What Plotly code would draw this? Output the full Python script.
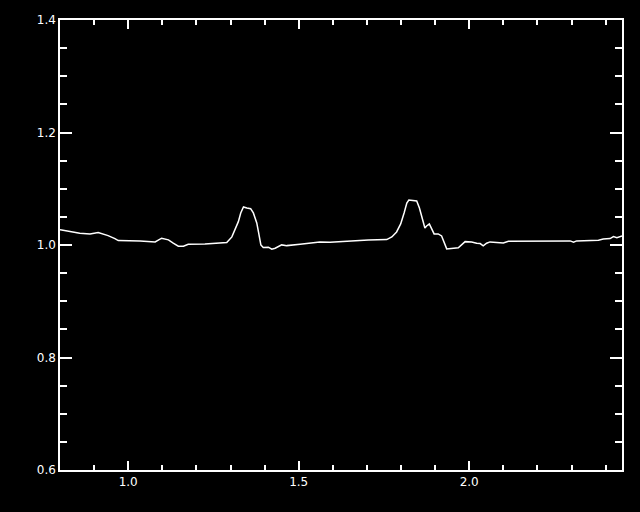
import plotly.graph_objects as go

wavelength = [0.800, 0.805, 0.858, 0.888, 0.912, 0.941, 0.961, 0.971, 1.035, 1.079, 1.098,
              1.118, 1.132, 1.147, 1.162, 1.176, 1.225, 1.289, 1.304, 1.313, 1.323, 1.330,
              1.338, 1.348, 1.359, 1.367, 1.377, 1.382, 1.389, 1.396, 1.411, 1.421, 1.431,
              1.450, 1.465, 1.504, 1.533, 1.562, 1.592, 1.641, 1.704, 1.758, 1.773, 1.787,
              1.799, 1.809, 1.817, 1.823, 1.846, 1.854, 1.861, 1.870, 1.875, 1.883, 1.890,
              1.897, 1.909, 1.919, 1.934, 1.949, 1.968, 1.988, 2.007, 2.022, 2.032, 2.041,
              2.051, 2.061, 2.081, 2.100, 2.115, 2.296, 2.306, 2.315, 2.379, 2.393, 2.413,
              2.423, 2.433, 2.443, 2.448]
ratio = [1.0270, 1.0268, 1.0209, 1.0197, 1.0220, 1.0167, 1.0114, 1.0078, 1.0073, 1.0055, 1.0121,
         1.0091, 1.0032, 0.9979, 0.9979, 1.0014, 1.0020, 1.0043, 1.0144, 1.0268, 1.0415, 1.0570,
         1.0676, 1.0658, 1.0646, 1.0570, 1.0392, 1.0232, 1.0002, 0.9954, 0.9961, 0.9925, 0.9943,
         1.0002, 0.9989, 1.0014, 1.0032, 1.0055, 1.0050, 1.0067, 1.0091, 1.0096, 1.0144, 1.0232,
         1.0374, 1.0570, 1.0747, 1.0800, 1.0783, 1.0658, 1.0481, 1.0303, 1.0339, 1.0374, 1.0286,
         1.0197, 1.0197, 1.0161, 0.9931, 0.9943, 0.9949, 1.0060, 1.0055, 1.0032, 1.0025, 0.9984,
         1.0032, 1.0055, 1.0043, 1.0037, 1.0067, 1.0073, 1.0050, 1.0073, 1.0085, 1.0108, 1.0114,
         1.0149, 1.0131, 1.0156, 1.0161]

x_range = [0.8, 2.448]
y_range = [0.6, 1.4]
x_ticks = [1.0, 1.5, 2.0]
x_ticklabels = ["1.0", "1.5", "2.0"]
y_ticks = [0.6, 0.8, 1.0, 1.2, 1.4]
y_ticklabels = ["0.6", "0.8", "1.0", "1.2", "1.4"]

fig = go.Figure()
fig.add_trace(go.Scatter(x=wavelength, y=ratio, mode="lines",
                         line=dict(color="white", width=1.5), showlegend=False))

axis_common = dict(showgrid=False, zeroline=False, showline=True, linecolor="white",
                   linewidth=1.5, mirror="allticks", ticks="inside", tickcolor="white",
                   tickwidth=1.5, tickfont=dict(color="white", size=12, family="DejaVu Sans"))

fig.update_xaxes(range=x_range, tickvals=x_ticks, ticktext=x_ticklabels, ticklen=9,
                 minor=dict(dtick=0.1, tick0=0.0, ticklen=5, ticks="inside",
                            tickcolor="white", tickwidth=1.5, showgrid=False),
                 **axis_common)
fig.update_yaxes(range=y_range, tickvals=y_ticks, ticktext=y_ticklabels, ticklen=12,
                 minor=dict(dtick=0.05, tick0=0.0, ticklen=7, ticks="inside",
                            tickcolor="white", tickwidth=1.5, showgrid=False),
                 **axis_common)

fig.update_layout(width=640, height=512, paper_bgcolor="black", plot_bgcolor="black",
                  margin=dict(l=60, r=18, t=20, b=42), font=dict(color="white"))

fig.write_html("out.html", config={"displayModeBar": False},
               post_script="document.body.style.margin='0';document.body.style.background='black';")
